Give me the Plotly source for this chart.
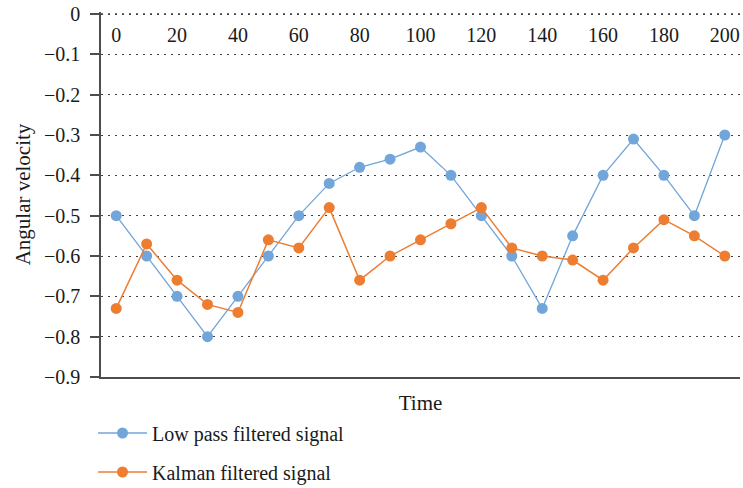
import plotly.graph_objects as go

# Sample times and the two filtered angular-velocity signals
time = [0, 10, 20, 30, 40, 50, 60, 70, 80, 90, 100,
        110, 120, 130, 140, 150, 160, 170, 180, 190, 200]
low_pass = [-0.50, -0.60, -0.70, -0.80, -0.70, -0.60, -0.50, -0.42, -0.38, -0.36, -0.33,
            -0.40, -0.50, -0.60, -0.73, -0.55, -0.40, -0.31, -0.40, -0.50, -0.30]
kalman = [-0.73, -0.57, -0.66, -0.72, -0.74, -0.56, -0.58, -0.48, -0.66, -0.60, -0.56,
          -0.52, -0.48, -0.58, -0.60, -0.61, -0.66, -0.58, -0.51, -0.55, -0.60]
x_ticks = list(range(0, 201, 20))
y_ticks = [0.0, -0.1, -0.2, -0.3, -0.4, -0.5, -0.6, -0.7, -0.8, -0.9]
y_labels = ["0", "\u22120.1", "\u22120.2", "\u22120.3", "\u22120.4",
            "\u22120.5", "\u22120.6", "\u22120.7", "\u22120.8", "\u22120.9"]

BLUE = "#72A5D9"
ORANGE = "#ED7D31"
GRID = "#404040"
GRID_DASH = "2px,5px"
FONT = "Liberation Serif"

fig = go.Figure()
fig.add_trace(go.Scatter(
    x=time, y=low_pass, name="Low pass filtered signal",
    mode="lines+markers", legendgroup="a",
    line=dict(color=BLUE, width=1.3),
    marker=dict(color=BLUE, size=11),
))
fig.add_trace(go.Scatter(
    x=time, y=kalman, name="Kalman filtered signal",
    mode="lines+markers", legendgroup="b", xaxis="x2",
    line=dict(color=ORANGE, width=1.5),
    marker=dict(color=ORANGE, size=11),
))

# dotted gridline along the zero level (plotly skips the edge gridline)
fig.add_shape(
    type="line", xref="paper", yref="y", x0=0, x1=1, y0=y_ticks[0], y1=y_ticks[0],
    line=dict(color=GRID, width=1.3, dash=GRID_DASH), layer="below",
)

fig.update_layout(
    width=743, height=488,
    margin=dict(l=101, r=3, t=12, b=111, autoexpand=False),
    paper_bgcolor="white", plot_bgcolor="white",
    font=dict(family=FONT, size=20, color="#1a1a1a"),
    xaxis=dict(
        range=[-5, 205], showgrid=False, zeroline=False,
        showticklabels=False, ticks="",
        showline=True, linecolor="#4d4d4d", linewidth=1.5,
        title=dict(text="Time", font=dict(size=21), standoff=18),
    ),
    # category labels sit just under the zero line, inside the plot
    xaxis2=dict(
        range=[-5, 205], matches="x", overlaying="x", side="bottom",
        anchor="free", position=0.974,
        tickvals=x_ticks, showgrid=False, zeroline=False, showline=False,
        ticks="", tickfont=dict(size=20),
    ),
    yaxis=dict(
        range=[-0.9, 0.005], tickvals=y_ticks, ticktext=y_labels,
        showgrid=True, gridcolor=GRID, griddash=GRID_DASH, gridwidth=1.3,
        zeroline=False, showline=True, linecolor="#4d4d4d", linewidth=1.5,
        ticks="outside", ticklen=9, tickcolor="#4d4d4d", tickwidth=1.5,
        ticklabelstandoff=6,
        title=dict(text="Angular velocity", font=dict(size=21), standoff=8),
        tickfont=dict(size=20),
    ),
    legend=dict(
        orientation="v", x=-0.0125, xanchor="left", y=-0.1, yanchor="top",
        font=dict(size=20), itemwidth=49, tracegroupgap=10,
        bgcolor="rgba(0,0,0,0)",
    ),
)

fig.write_html("out.html")
